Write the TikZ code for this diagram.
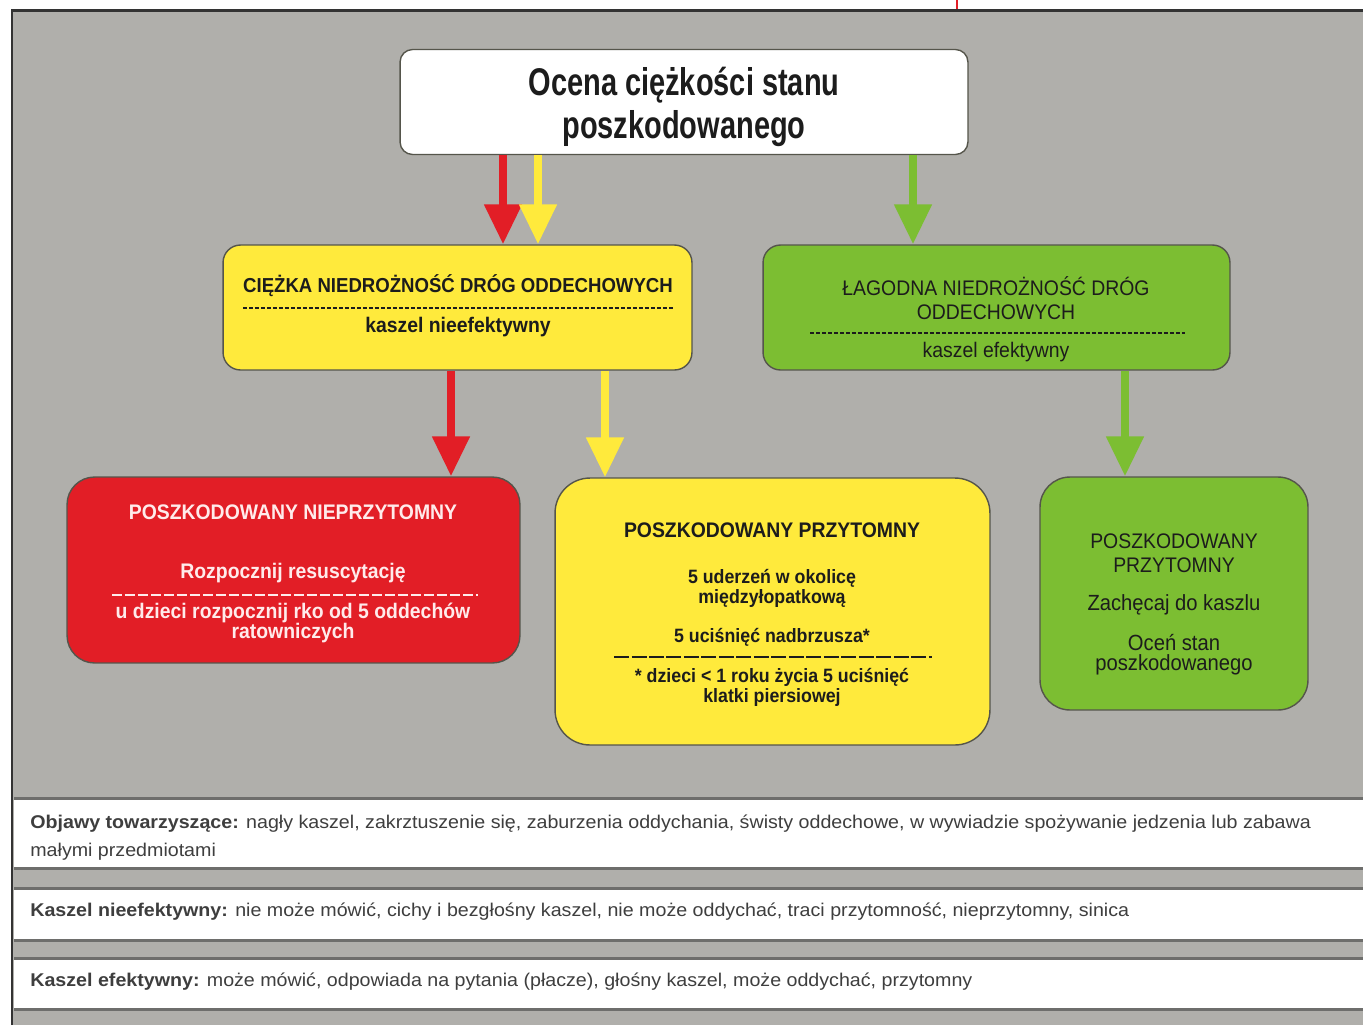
\documentclass[tikz,border=0pt]{standalone}
\usepackage{fontspec}
\setmainfont{Liberation Sans}
\newfontfamily\condfont{Liberation Sans}[FakeStretch=0.92]
\newfontfamily\titlefont{Liberation Sans}[FakeStretch=0.75]
\newfontfamily\notefont{Liberation Sans}[FakeStretch=1.065]
\usetikzlibrary{arrows.meta}
\definecolor{panelgray}{RGB}{176,175,171}
\definecolor{alarmred}{RGB}{226,30,38}
\definecolor{warnyellow}{RGB}{255,234,60}
\definecolor{okgreen}{RGB}{124,190,50}
\definecolor{boxline}{RGB}{85,85,75}
\definecolor{inkdark}{RGB}{28,28,28}
\definecolor{bandline}{RGB}{110,110,108}

\begin{document}
\begin{tikzpicture}[x=0.02cm,y=-0.02cm,
  box/.style={draw=boxline,line width=0.8pt},
  flow/.style={line width=0.16cm,-{Triangle[length=0.8cm,width=0.72cm]}},
  head/.style={font=\condfont\bfseries\fontsize{12}{13.7}\selectfont,align=center,inner sep=0pt,text=inkdark},
  body/.style={font=\condfont\bfseries\fontsize{11}{11.4}\selectfont,align=center,inner sep=0pt,text=inkdark},
  light/.style={font=\condfont\fontsize{12}{13.7}\selectfont},
  sep/.style={inkdark,line width=0.04cm,dash pattern=on 0.08cm off 0.04cm},
  note/.style={font=\notefont\fontsize{10.5}{15.9}\selectfont,align=left,anchor=west,inner sep=0pt,text=inkdark!85}]
\useasboundingbox (0,0) rectangle (1363,1025);

% frame and background
\fill[panelgray] (12,10) rectangle (1363,1025);
\draw[line width=0.06cm,black!80] (12,1025) -- (12,10) -- (1363,10);
\draw[alarmred,line width=0.6pt] (957,0) -- (957,9);

% boxes
\node[box,fill=white,rounded corners=0.25cm,minimum width=11.36cm,minimum height=2.1cm] (top) at (684,102) {};
\node[box,fill=warnyellow,rounded corners=0.35cm,minimum width=9.38cm,minimum height=2.5cm] (hard) at (457.5,307.5) {};
\node[box,fill=okgreen,rounded corners=0.35cm,minimum width=9.34cm,minimum height=2.5cm] (mild) at (996.5,307.5) {};
\node[box,fill=alarmred,rounded corners=0.55cm,minimum width=9.06cm,minimum height=3.72cm] (uncon) at (293.5,570) {};
\node[box,fill=warnyellow,rounded corners=0.7cm,minimum width=8.7cm,minimum height=5.34cm] (con) at (772.5,611.5) {};
\node[box,fill=okgreen,rounded corners=0.6cm,minimum width=5.36cm,minimum height=4.66cm] (cough) at (1174,593.5) {};

% texts
\node[font=\titlefont\bfseries\fontsize{22}{24.5}\selectfont,align=center,text=inkdark] (ttl) at (684,107) {Ocena ciężkości stanu\\poszkodowanego};

\node[head,font=\condfont\bfseries\fontsize{11.5}{13.7}\selectfont] (hardhd) at (458,286) {CIĘŻKA NIEDROŻNOŚĆ DRÓG ODDECHOWYCH};
\draw[sep] (243,308) -- (673,308);
\node[head] (hardsub) at (458,327) {kaszel nieefektywny};

\node[head,light] (mildhd) at (996,298) {ŁAGODNA NIEDROŻNOŚĆ DRÓG\\ODDECHOWYCH};
\draw[sep] (810,333) -- (1185,333);
\node[head,light] (mildsub) at (996,352) {kaszel efektywny};

\node[head,text=white!92!red] (unconhd) at (293,512) {POSZKODOWANY NIEPRZYTOMNY};
\node[head,text=white!92!red] (unconact) at (293,573) {Rozpocznij resuscytację};
\draw[white!92!red,line width=0.04cm,dash pattern=on 0.2cm off 0.06cm] (112,595) -- (478,595);
\node[head,text=white!92!red,font=\condfont\bfseries\fontsize{12}{11.4}\selectfont] (unconkid) at (293,623) {u dzieci rozpocznij rko od 5 oddechów\\ratowniczych};

\node[head] (conhd) at (772,530) {POSZKODOWANY PRZYTOMNY};
\node[body] (conback) at (772,588) {5 uderzeń w okolicę\\międzyłopatkową};
\node[body] (conabd) at (772,637) {5 uciśnięć nadbrzusza*};
\draw[sep,dash pattern=on 0.3cm off 0.05cm] (614,657) -- (932,657);
\node[body] (conkid) at (772,687) {* dzieci < 1 roku życia 5 uciśnięć\\klatki piersiowej};

\node[head,light] (coughhd) at (1174,553) {POSZKODOWANY\\PRZYTOMNY};
\node[head,light,font=\condfont\fontsize{12.5}{13.7}\selectfont] (coughdo) at (1174,605) {Zachęcaj do kaszlu};
\node[head,light,font=\condfont\fontsize{12.5}{11.4}\selectfont] (coughchk) at (1174,655) {Oceń stan\\poszkodowanego};

% arrows
\coordinate (xa) at (503,0);
\coordinate (xb) at (538,0);
\coordinate (xc) at (913,0);
\coordinate (xd) at (451,0);
\coordinate (xe) at (605,0);
\coordinate (xf) at (1125,0);
\draw[flow,alarmred] (top.south -| xa) -- (hard.north -| xa);
\draw[flow,warnyellow] (top.south -| xb) -- (hard.north -| xb);
\draw[flow,okgreen] (top.south -| xc) -- (mild.north -| xc);
\draw[flow,alarmred] (hard.south -| xd) -- (uncon.north -| xd);
\draw[flow,warnyellow] (hard.south -| xe) -- (con.north -| xe);
\draw[flow,okgreen] (mild.south -| xf) -- (cough.north -| xf);

% legend bands
\foreach \yt/\yb in {798/868,888/940,958/1009}{
  \fill[white] (14,\yt) rectangle (1363,\yb);
  \draw[bandline,line width=0.06cm] (14,\yt) -- (1363,\yt);
  \draw[bandline,line width=0.06cm] (14,\yb) -- (1363,\yb);
}
\node[note] (sympt) at (30,838) {\textbf{Objawy towarzyszące:} nagły kaszel, zakrztuszenie się, zaburzenia oddychania, świsty oddechowe, w wywiadzie spożywanie jedzenia lub zabawa\\małymi przedmiotami};
\node[note] (weak) at (30,912) {\textbf{Kaszel nieefektywny:} nie może mówić, cichy i bezgłośny kaszel, nie może oddychać, traci przytomność, nieprzytomny, sinica};
\node[note] (strong) at (30,982) {\textbf{Kaszel efektywny:} może mówić, odpowiada na pytania (płacze), głośny kaszel, może oddychać, przytomny};
\end{tikzpicture}
\end{document}
